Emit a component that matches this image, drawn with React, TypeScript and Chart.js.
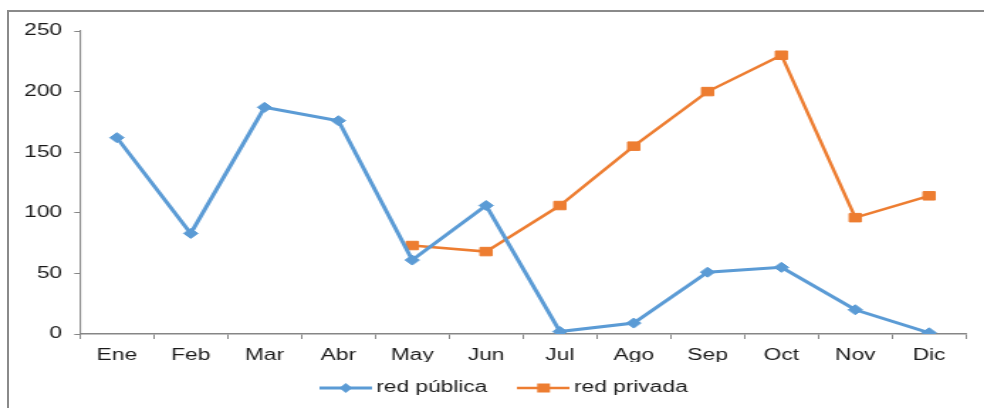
import React, { useEffect, useRef } from "react";
import { Chart, registerables } from "chart.js";

Chart.register(...registerables);

const months = ["Ene", "Feb", "Mar", "Abr", "May", "Jun", "Jul", "Ago", "Sep", "Oct", "Nov", "Dic"];
const redPublica = [162, 83, 187, 176, 61, 106, 2, 9, 51, 55, 20, 1];
const redPrivada = [null, null, null, null, 73, 68, 106, 155, 200, 230, 96, 114];
const yTicks = [0, 50, 100, 150, 200, 250];

const BLUE = "#5B9BD5";
const ORANGE = "#ED7D31";
const AXIS = "#868686";
const TEXT = "#1a1a1a";
const FONT = "'Liberation Sans', Arial, sans-serif";
const STRETCH = 1.42;
const CW = Math.round(984 / STRETCH);

function legendIcon(color: string, kind: "diamond" | "square", lw: number) {
  const c = document.createElement("canvas");
  c.width = 37;
  c.height = 14;
  const ctx = c.getContext("2d")!;
  ctx.strokeStyle = color;
  ctx.lineWidth = lw;
  ctx.beginPath();
  ctx.moveTo(0, 7);
  ctx.lineTo(37, 7);
  ctx.stroke();
  ctx.fillStyle = color;
  ctx.beginPath();
  if (kind === "diamond") {
    ctx.moveTo(18.5 - 4.5, 7);
    ctx.lineTo(18.5, 2);
    ctx.lineTo(18.5 + 4.5, 7);
    ctx.lineTo(18.5, 12);
    ctx.closePath();
  } else {
    ctx.rect(18.5 - 4.5, 7 - 4.5, 9, 9);
  }
  ctx.fill();
  return c;
}

const legendPlacer = {
  id: "legendPlacer",
  beforeLayout(chart: any) {
    const lg = chart.legend;
    if (lg && !lg._patched) {
      const f = lg.fit.bind(lg);
      lg.fit = () => {
        f();
        lg.height = 46;
      };
      lg._patched = true;
    }
  },
  afterLayout(chart: any) {
    const lg = chart.legend;
    if (!lg) return;
    lg.top = 354;
    lg.bottom = 354 + lg.height;
    lg.left += 17;
    lg.right += 17;
  },
};

export default function App() {
  const ref = useRef<HTMLCanvasElement | null>(null);

  useEffect(() => {
    if (!ref.current) return;
    const iconBlue = legendIcon(BLUE, "diamond", 3);
    const iconOrange = legendIcon(ORANGE, "square", 2.5);
    const chart = new Chart(ref.current, {
      type: "line",
      plugins: [legendPlacer],
      data: {
        labels: months,
        datasets: [
          {
            label: "red pública",
            data: redPublica,
            borderColor: BLUE,
            backgroundColor: BLUE,
            borderWidth: 3,
            pointStyle: "rectRot",
            pointRadius: 5,
            pointBorderWidth: 1,
            pointBackgroundColor: BLUE,
            pointBorderColor: BLUE,
            tension: 0,
          },
          {
            label: "red privada",
            data: redPrivada,
            borderColor: ORANGE,
            backgroundColor: ORANGE,
            borderWidth: 2.5,
            pointStyle: "rect",
            pointRadius: 6,
            pointBorderWidth: 1,
            pointBackgroundColor: ORANGE,
            pointBorderColor: ORANGE,
            spanGaps: false,
            tension: 0,
          },
        ],
      },
      options: {
        animation: false,
        responsive: true,
        maintainAspectRatio: false,
        layout: { padding: { left: 0, right: 12.7, top: 31, bottom: 0 } },
        plugins: {
          tooltip: { enabled: false },
          legend: {
            position: "bottom",
            labels: {
              usePointStyle: true,
              pointStyleWidth: 27,
              padding: 26,
              color: TEXT,
              font: { family: FONT, size: 16 },
              generateLabels: (ch: any) =>
                ch.data.datasets.map((ds: any, i: number) => ({
                  text: ds.label,
                  pointStyle: i === 0 ? iconBlue : iconOrange,
                  fillStyle: ds.borderColor,
                  strokeStyle: ds.borderColor,
                  lineWidth: 0,
                  hidden: false,
                  datasetIndex: i,
                  fontColor: TEXT,
                })),
            },
          },
        },
        scales: {
          x: {
            offset: true,
            grid: {
              offset: true,
              drawOnChartArea: false,
              drawTicks: true,
              tickLength: 5,
              color: AXIS,
            },
            border: { display: true, color: AXIS, width: 1.5 },
            ticks: { color: TEXT, font: { family: FONT, size: 16 }, padding: 7, maxRotation: 0 },
            afterFit: (s: any) => {
              s.height = 28;
            },
          },
          y: {
            min: 0,
            max: 250,
            afterBuildTicks: (s: any) => {
              s.ticks = yTicks.map((v) => ({ value: v }));
            },
            grid: {
              drawOnChartArea: false,
              drawTicks: true,
              tickLength: 4,
              color: AXIS,
            },
            border: { display: true, color: AXIS, width: 1.1 },
            ticks: { color: TEXT, font: { family: FONT, size: 16 }, padding: 8.6 },
            afterFit: (s: any) => {
              s.width = 56.3;
            },
          },
        },
      },
    });
    return () => chart.destroy();
  }, []);

  return (
    <>
      <div
        style={{
          position: "fixed",
          left: 7,
          top: 10,
          width: 1100,
          height: 500,
          borderTop: "2px solid #8a8a8a",
          borderLeft: "2px solid #8a8a8a",
          boxSizing: "border-box",
        }}
      />
      <div
        style={{
          position: "fixed",
          left: 0,
          top: 0,
          width: CW,
          height: 408,
          transform: `scaleX(${STRETCH})`,
          transformOrigin: "left top",
        }}
      >
        <canvas ref={ref} />
      </div>
    </>
  );
}
